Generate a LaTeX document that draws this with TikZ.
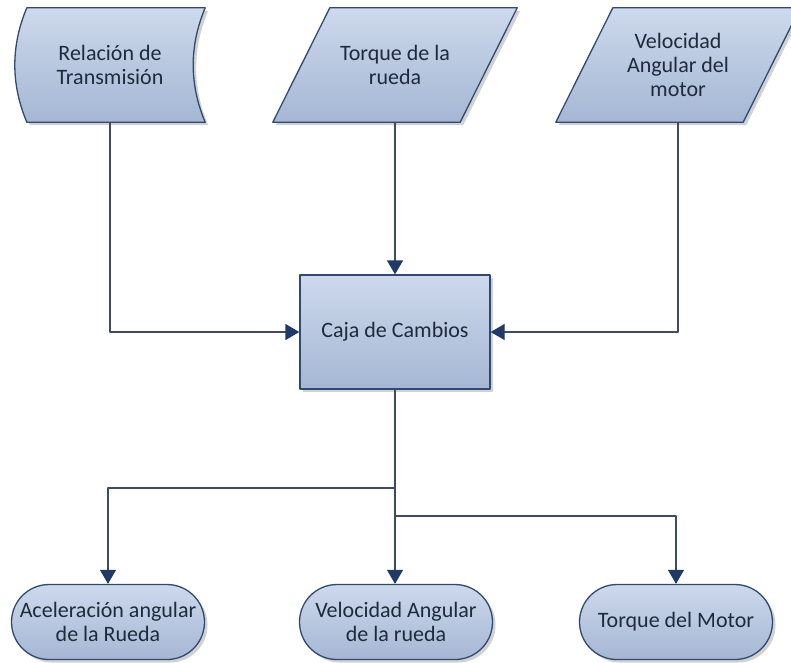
\documentclass[tikz,border=0pt]{standalone}
\usepackage{fontspec}
\setmainfont{Carlito}
\usetikzlibrary{shapes.misc,shadows,arrows.meta}
\definecolor{borde}{HTML}{2F4A70}
\definecolor{rellenoA}{HTML}{CDD9EC}
\definecolor{rellenoB}{HTML}{A5B7D4}
\definecolor{linea}{HTML}{3E4C5E}
\definecolor{punta}{HTML}{1F3A68}
\definecolor{texto}{HTML}{1F2B3B}
\begin{document}
\begin{tikzpicture}[x=1pt,y=-1pt,line join=round,font=\fontsize{22}{24}\selectfont,
	bloque/.style={draw=borde,line width=1.3pt,top color=rellenoA,bottom color=rellenoB,
		drop shadow={shadow xshift=3pt,shadow yshift=-3pt,opacity=0.3,fill=black!60}},
	etiqueta/.style={text=texto,align=center,inner sep=0pt},
	hueco/.style={etiqueta,minimum width=#1,minimum height=114},
	fin/.style={bloque,etiqueta,rounded rectangle,minimum width=193,minimum height=75},
	flecha/.style={draw=linea,line width=1.3pt,-{Triangle[width=16pt,length=14pt,color=punta]}}]
	\useasboundingbox (0,0) rectangle (791,662);
	\clip (0,0) rectangle (791,662);
	% Entradas: dato almacenado y dos paralelogramos
	\node[hueco=190] (rel) at (110,65) {};
	\draw[bloque] ([xshift=12pt]rel.north west) -- (rel.north east)
		.. controls +(-16,38) and +(-16,-38) .. (rel.south east)
		-- ([xshift=12pt]rel.south west)
		.. controls +(-16,-38) and +(-16,38) .. ([xshift=12pt]rel.north west) -- cycle;
	\foreach \n/\x in {torq/395,velm/678}{
		\node[hueco=244] (\n) at (\x,65) {};
		\draw[bloque] ([xshift=57pt]\n.north west) -- (\n.north east)
			-- ([xshift=-57pt]\n.south east) -- (\n.south west) -- cycle;
	}
	\node[etiqueta] at (rel) {Relación de\\Transmisión};
	\node[etiqueta] at (torq) {Torque de la\\rueda};
	\node[etiqueta] at (velm) {Velocidad\\Angular del\\motor};
	% Bloque central
	\node[bloque,etiqueta,minimum width=190,minimum height=114] (cambios) at (395,332) {Caja de Cambios};
	% Salidas
	\node[fin] (acel) at (108,622) {Aceleración angular\\de la Rueda};
	\node[fin] (velr) at (396,622) {Velocidad Angular\\de la rueda};
	\node[fin] (tmot) at (676,622) {Torque del Motor};
	\path (395,488) coordinate (r1)
		(395,516) coordinate (r2);
	% Conexiones
	\draw[flecha] (rel.south) |- (cambios.west);
	\draw[flecha] (torq.south) -- (cambios.north);
	\draw[flecha] (velm.south) |- (cambios.east);
	\draw[flecha] (cambios.south) -- (cambios.south |- velr.north);
	\draw[flecha] (r1) -| (acel.north);
	\draw[flecha] (r2) -| (tmot.north);
\end{tikzpicture}
\end{document}
